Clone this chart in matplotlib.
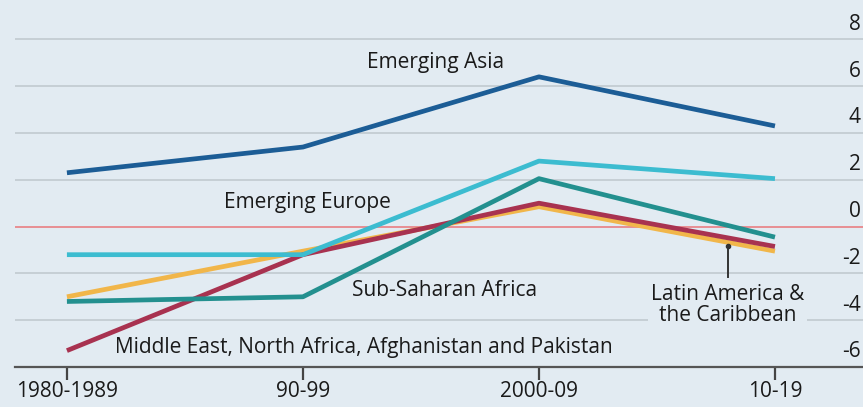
import matplotlib.pyplot as plt
import matplotlib.transforms as mtransforms

plt.rcParams['font.family'] = ['Open Sans', 'DejaVu Sans']

periods = ['1980-1989', '90-99', '2000-09', '10-19']
emerging_asia = [2.3, 3.4, 6.4, 4.3]
emerging_europe = [-1.2, -1.2, 2.8, 2.05]
sub_saharan = [-3.2, -3.0, 2.05, -0.45]
latin_america = [-3.0, -1.05, 0.85, -1.05]
middle_east = [-5.3, -1.2, 1.0, -0.85]
yticks = [-6, -4, -2, 0, 2, 4, 6, 8]

BG = '#e2ebf2'
fig = plt.figure(figsize=(8.63, 4.07), dpi=100, facecolor=BG)
ax = fig.add_axes([15 / 863, 40 / 407, 848 / 863, 351 / 407], facecolor=BG)

x = range(len(periods))
ax.set_xlim(-0.22, 3.373)
ax.set_ylim(-6, 9)

# gridlines
for v in yticks:
    if v == 0:
        ax.axhline(v, color='#e8878c', lw=1.3, zorder=1)
    elif v != -6:
        ax.axhline(v, color='#c4ccd2', lw=1.3, zorder=1)

lw = 3.4
ax.plot(x, latin_america, color='#f1b64a', lw=lw, solid_capstyle='butt', zorder=3)
ax.plot(x, middle_east, color='#a83250', lw=lw, solid_capstyle='butt', zorder=4)
ax.plot(x, sub_saharan, color='#23908f', lw=lw, solid_capstyle='butt', zorder=5)
ax.plot(x, emerging_europe, color='#3cbcd0', lw=lw, solid_capstyle='butt', zorder=6)
ax.plot(x, emerging_asia, color='#1c5d96', lw=lw, solid_capstyle='butt', zorder=7)

fs = 15
tc = '#1a1a1a'
ax.text(1.56, 7.0, 'Emerging Asia', fontsize=fs, ha='center', va='center', color=tc)
ax.text(1.02, 1.03, 'Emerging Europe', fontsize=fs, ha='center', va='center', color=tc)
ax.text(1.60, -2.74, 'Sub-Saharan Africa', fontsize=fs, ha='center', va='center', color=tc)
ax.text(1.26, -5.18, 'Middle East, North Africa, Afghanistan and Pakistan', fontsize=fs,
        ha='center', va='center', color=tc)
ax.text(2.80, -3.35, 'Latin America &\nthe Caribbean', fontsize=fs, ha='center', va='center',
        color=tc, linespacing=1.0,
        bbox=dict(facecolor=BG, edgecolor='none', pad=2))
ax.plot([2.8, 2.8], [-0.85, -2.15], color='#333333', lw=1.4, zorder=8)
ax.plot([2.8], [-0.85], marker='o', ms=3, color='#333333', zorder=8)

# y labels on the right, sitting above the gridlines
trans = mtransforms.blended_transform_factory(ax.transAxes, ax.transData)
for v in yticks:
    ax.text(0.997, v + 0.2, str(v), transform=trans, ha='right', va='bottom',
            fontsize=fs, color=tc)

ax.set_yticks([])
ax.set_xticks(list(x))
ax.set_xticklabels(periods, fontsize=fs, color=tc)
ax.tick_params(axis='x', length=9, width=1.6, color='#444444', pad=1)
for s in ['top', 'right', 'left']:
    ax.spines[s].set_visible(False)
ax.spines['bottom'].set_color('#555555')
ax.spines['bottom'].set_linewidth(1.6)

fig.savefig('out.png', dpi=100, facecolor=BG)
